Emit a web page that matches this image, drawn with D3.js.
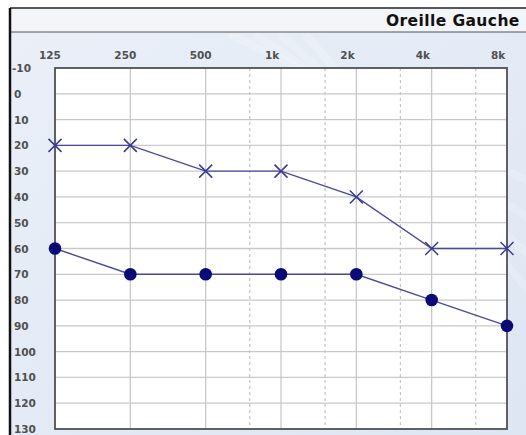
<!DOCTYPE html>
<html><head><meta charset="utf-8">
<script src="https://cdn.jsdelivr.net/npm/d3@7"></script>
<style>body{margin:0;background:#fff;}svg{display:block;}</style>
</head><body>
<svg id="c" width="526" height="435"></svg>
<script>
const title = "Oreille Gauche";
const freqs = [125, 250, 500, 1000, 2000, 4000, 8000];
const freqLabels = ["125", "250", "500", "1k", "2k", "4k", "8k"];
const halfFreqs = [750, 1500, 3000, 6000];
const dbTicks = [-10, 0, 10, 20, 30, 40, 50, 60, 70, 80, 90, 100, 110, 120, 130];
const airValues = [20, 20, 30, 30, 40, 60, 60];      // X markers
const boneValues = [60, 70, 70, 70, 70, 80, 90];     // filled circles

const svg = d3.select("#c");
const W = 526, H = 435;
const L = 55, R = 507, T = 68, B = 429;

const x = d3.scaleLog().base(2).domain([125, 8000]).range([L, R]);
const y = d3.scaleLinear().domain([-10, 130]).range([T, B]);

// backgrounds
const defs = svg.append("defs");
const g1 = defs.append("linearGradient").attr("id","bg").attr("x1","0").attr("y1","0").attr("x2","1").attr("y2","1");
g1.append("stop").attr("offset","0").attr("stop-color","#eaeff8");
g1.append("stop").attr("offset","1").attr("stop-color","#dee6f3");
svg.append("rect").attr("x",10).attr("y",32).attr("width",W-10).attr("height",H-32).attr("fill","url(#bg)");
// faint diagonal streaks
[0,1,2,3].forEach(i=>{
  svg.append("line").attr("x1",230+i*25).attr("y1",34).attr("x2",W+20).attr("y2",190+i*40)
    .attr("stroke","#ffffff").attr("stroke-opacity",0.18).attr("stroke-width",8);
});
svg.append("rect").attr("x",10).attr("y",8).attr("width",W-10).attr("height",24).attr("fill","#f3f5f9");
svg.append("line").attr("x1",10).attr("x2",W).attr("y1",8).attr("y2",8).attr("stroke","#222").attr("stroke-width",1.5);
svg.append("line").attr("x1",10).attr("x2",W).attr("y1",32).attr("y2",32).attr("stroke","#555").attr("stroke-width",1.2);
svg.append("line").attr("x1",10).attr("x2",10).attr("y1",8).attr("y2",H).attr("stroke","#111").attr("stroke-width",2.5);

svg.append("text").attr("x",386).attr("y",26).text(title)
  .attr("font-family","DejaVu Sans, Verdana, sans-serif").attr("font-weight","bold")
  .attr("font-size",15.5).attr("letter-spacing",0.4).attr("fill","#111");

// plot area
svg.append("rect").attr("x",L).attr("y",T).attr("width",R-L).attr("height",B-T).attr("fill","#fff");

// horizontal grid
svg.append("g").selectAll("line").data(dbTicks.slice(1,-1)).join("line")
  .attr("x1",L).attr("x2",R).attr("y1",d=>y(d)).attr("y2",d=>y(d))
  .attr("stroke","#c9c9c9").attr("stroke-width",1.3);
// vertical octave grid
svg.append("g").selectAll("line").data(freqs.slice(1,-1)).join("line")
  .attr("x1",d=>x(d)).attr("x2",d=>x(d)).attr("y1",T).attr("y2",B)
  .attr("stroke","#c9c9c9").attr("stroke-width",1.3);
// half-octave dotted
svg.append("g").selectAll("line").data(halfFreqs).join("line")
  .attr("x1",d=>x(d)).attr("x2",d=>x(d)).attr("y1",T).attr("y2",B)
  .attr("stroke","#c4c4c4").attr("stroke-width",1.2).attr("stroke-dasharray","3,3");

// border
svg.append("rect").attr("x",L).attr("y",T).attr("width",R-L).attr("height",B-T)
  .attr("fill","none").attr("stroke","#505050").attr("stroke-width",1.8);

// axis labels
const font = "DejaVu Sans, Verdana, sans-serif";
svg.append("g").selectAll("text").data(freqs).join("text")
  .attr("x",d=>x(d)-16).attr("y",59)
  .attr("font-family",font).attr("font-size",10.5).attr("font-weight","bold").attr("fill","#505050")
  .text((d,i)=>freqLabels[i]);
svg.append("g").selectAll("text").data(dbTicks).join("text")
  .attr("x",d=>d<0?12:14).attr("y",d=>y(d)+4)
  .attr("font-family",font).attr("font-size",10.5).attr("font-weight","bold").attr("fill","#505050")
  .text(d=>d);

const lineColor = "#4a4a9a", markColor = "#0b0b78";
const line = d3.line().x((d,i)=>x(freqs[i])).y(d=>y(d));

svg.append("path").datum(airValues).attr("d",line).attr("fill","none")
  .attr("stroke",lineColor).attr("stroke-width",1.4);
svg.append("path").datum(boneValues).attr("d",line).attr("fill","none")
  .attr("stroke",lineColor).attr("stroke-width",1.4);

const s = 6.5;
svg.append("g").selectAll("path").data(airValues).join("path")
  .attr("d",(d,i)=>{const cx=x(freqs[i]), cy=y(d);
    return `M${cx-s},${cy-s}L${cx+s},${cy+s}M${cx-s},${cy+s}L${cx+s},${cy-s}`;})
  .attr("stroke","#3a3a90").attr("stroke-width",1.5).attr("fill","none");
svg.append("g").selectAll("circle").data(boneValues).join("circle")
  .attr("cx",(d,i)=>x(freqs[i])).attr("cy",d=>y(d)).attr("r",6.3)
  .attr("fill",markColor);
</script>
</body></html>
